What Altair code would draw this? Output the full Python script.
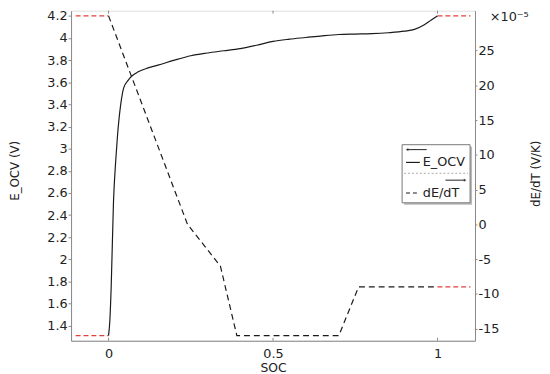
import altair as alt
import pandas as pd

# ---------------- data ----------------
soc_e = [0.0, 0.004, 0.008, 0.015, 0.022, 0.027, 0.037, 0.046, 0.06, 0.07, 0.09,
         0.12, 0.15, 0.2, 0.25, 0.3, 0.35, 0.4, 0.45, 0.5, 0.55, 0.6, 0.65, 0.7,
         0.75, 0.8, 0.85, 0.9, 0.93, 0.96, 0.98, 1.0]
e_ocv = [1.312, 1.45, 1.75, 2.52, 2.90, 3.11, 3.40, 3.55, 3.62, 3.655, 3.695,
         3.73, 3.755, 3.80, 3.84, 3.865, 3.885, 3.905, 3.935, 3.97, 3.99, 4.005,
         4.02, 4.032, 4.036, 4.04, 4.048, 4.062, 4.078, 4.12, 4.16, 4.2]

soc_d = [0.0, 0.24, 0.34, 0.39, 0.70, 0.76, 1.0]
dedt = [30, 0, -6, -16, -16, -9, -9]          # x 1e-5 V/K

ext_soc = [-0.1, 0.0, 1.0, 1.1]
ext_seg = ["left", "left", "right", "right"]
e_ext = [1.312, 1.312, 4.2, 4.2]
d_ext = [30, 30, -9, -9]

x_ticks = [0, 0.5, 1]
y_left_ticks = [1.4, 1.6, 1.8, 2, 2.2, 2.4, 2.6, 2.8, 3, 3.2, 3.4, 3.6, 3.8, 4, 4.2]
y_right_ticks = [-15, -10, -5, 0, 5, 10, 15, 20, 25]
legend_labels = ["E_OCV", "dE/dT"]

# ---------------- frames ----------------
df_e = pd.DataFrame({"soc": soc_e, "v": e_ocv})
df_d = pd.DataFrame({"soc": soc_d, "v": dedt})
df_e_ext = pd.DataFrame({"soc": ext_soc, "v": e_ext, "seg": ext_seg})
df_d_ext = pd.DataFrame({"soc": ext_soc, "v": d_ext, "seg": ext_seg})
one = pd.DataFrame({"k": [0]})
df_xt = pd.DataFrame({"soc": x_ticks})

W, H = 410, 335
FONT = "DejaVu Sans"
AX = "#888888"
TXT = "#222222"
RED = "#e2413a"

x_scale = alt.Scale(domain=[-0.114, 1.114], nice=False, zero=False)
xenc = alt.X("soc:Q", scale=x_scale,
             axis=alt.Axis(title="SOC", values=x_ticks, ticks=False, grid=False,
                           labelPadding=7, labelFontSize=13, titleFontSize=12.5,
                           titleFontWeight="normal", titleY=27, titleBaseline="middle",
                           domainColor=AX, labelColor=TXT, titleColor=TXT,
                           labelExpr="'' + datum.value"))

yl_scale = alt.Scale(domain=[1.265, 4.247], nice=False, zero=False)
ylenc = alt.Y("v:Q", scale=yl_scale,
              axis=alt.Axis(orient="left", title="E_OCV (V)", values=y_left_ticks,
                            grid=False, tickSize=3, labelPadding=1, tickColor=AX,
                            domainColor=AX, labelFontSize=13, labelColor=TXT,
                            titleFontSize=12, titleFontWeight="normal", titleColor=TXT,
                            titleAngle=270, titleX=-57, titleY=162,
                            titleAlign="center", titleBaseline="middle",
                            labelExpr="'' + datum.value"))

yr_scale = alt.Scale(domain=[-16.74, 30.74], nice=False, zero=False)
yrenc = alt.Y("v:Q", scale=yr_scale,
              axis=alt.Axis(orient="right", title="dE/dT (V/K)", values=y_right_ticks,
                            grid=False, tickSize=2, labelPadding=1, tickColor=AX,
                            domainColor=AX, labelFontSize=13, labelColor=TXT,
                            titleFontSize=12, titleFontWeight="normal", titleColor=TXT,
                            titleAngle=270, titleX=61, titleY=165,
                            titleAlign="center", titleBaseline="middle",
                            labelExpr="'' + datum.value"))

e_line = alt.Chart(df_e).mark_line(color="#1a1a1a", strokeWidth=1.2,
                                   interpolate="monotone").encode(x=xenc, y=ylenc)
e_extl = alt.Chart(df_e_ext).mark_line(color=RED, strokeWidth=1.2,
                                       strokeDash=[5, 3]).encode(x=xenc, y=ylenc, detail="seg:N")
d_line = alt.Chart(df_d).mark_line(color="#1a1a1a", strokeWidth=1.2,
                                   strokeDash=[6, 4]).encode(x=xenc, y=yrenc)
d_extl = alt.Chart(df_d_ext).mark_line(color=RED, strokeWidth=1.2,
                                       strokeDash=[5, 3]).encode(x=xenc, y=yrenc, detail="seg:N")

left = alt.layer(e_extl, e_line)
right = alt.layer(d_extl, d_line)

# inward x ticks (bottom and top frame)
xt_bottom = alt.Chart(df_xt).mark_rule(color=AX, strokeWidth=1).encode(
    x=xenc, y=alt.value(H), y2=alt.value(H - 3))
xt_top = alt.Chart(df_xt).mark_rule(color=AX, strokeWidth=1).encode(
    x=xenc, y=alt.value(0), y2=alt.value(3))

# exponent label
expo = alt.Chart(one).mark_text(text="×10⁻⁵", font=FONT, fontSize=13, color=TXT,
                                align="left", baseline="middle").encode(
    x=alt.value(425), y=alt.value(6))

# manual legend
LX0, LX1, LY0, LY1 = 336, 405, 136, 195
shadow = alt.Chart(one).mark_rect(color="#bbbbbb").encode(
    x=alt.value(LX0 + 2), x2=alt.value(LX1 + 2), y=alt.value(LY0 + 2), y2=alt.value(LY1 + 2))
box = alt.Chart(one).mark_rect(fill="white", stroke="#777777", strokeWidth=1).encode(
    x=alt.value(LX0), x2=alt.value(LX1), y=alt.value(LY0), y2=alt.value(LY1))
arrow1 = alt.Chart(one).mark_rule(color="#222222", strokeWidth=1).encode(
    x=alt.value(341), x2=alt.value(361), y=alt.value(LY0 + 5))
head1 = alt.Chart(one).mark_point(shape="triangle-left", filled=True, size=10,
                                  color="#222222").encode(x=alt.value(341), y=alt.value(LY0 + 5))
sym1 = alt.Chart(one).mark_rule(color="#1a1a1a", strokeWidth=1.2).encode(
    x=alt.value(340), x2=alt.value(354), y=alt.value(LY0 + 18))
lab1 = alt.Chart(one).mark_text(text=legend_labels[0], font=FONT, fontSize=13, color=TXT,
                                align="left", baseline="middle").encode(
    x=alt.value(357), y=alt.value(LY0 + 18))
sep = alt.Chart(one).mark_rule(color="#aaaaaa", strokeWidth=1, strokeDash=[2, 2]).encode(
    x=alt.value(LX0 + 2), x2=alt.value(LX1 - 2), y=alt.value(LY0 + 29))
arrow2 = alt.Chart(one).mark_rule(color="#222222", strokeWidth=1).encode(
    x=alt.value(380), x2=alt.value(400), y=alt.value(LY0 + 36))
head2 = alt.Chart(one).mark_point(shape="triangle-right", filled=True, size=10,
                                  color="#222222").encode(x=alt.value(400), y=alt.value(LY0 + 36))
sym2 = alt.Chart(one).mark_rule(color="#1a1a1a", strokeWidth=1.2, strokeDash=[4, 3]).encode(
    x=alt.value(340), x2=alt.value(354), y=alt.value(LY0 + 49))
lab2 = alt.Chart(one).mark_text(text=legend_labels[1], font=FONT, fontSize=13, color=TXT,
                                align="left", baseline="middle").encode(
    x=alt.value(357), y=alt.value(LY0 + 49))

chart = alt.layer(
    left, right, xt_bottom, xt_top, expo,
    shadow, box, arrow1, head1, sym1, lab1, sep, arrow2, head2, sym2, lab2
).resolve_scale(y="independent").properties(
    width=W, height=H,
    autosize=alt.AutoSizeParams(type="none"),
    padding={"left": 64, "top": 0, "right": 68, "bottom": 31},
    background="white",
).configure_view(stroke=AX, strokeWidth=1).configure(font=FONT).configure_axis(
    labelFont=FONT, titleFont=FONT)

chart.save("out.html", embed_options={"renderer": "svg", "actions": False})
